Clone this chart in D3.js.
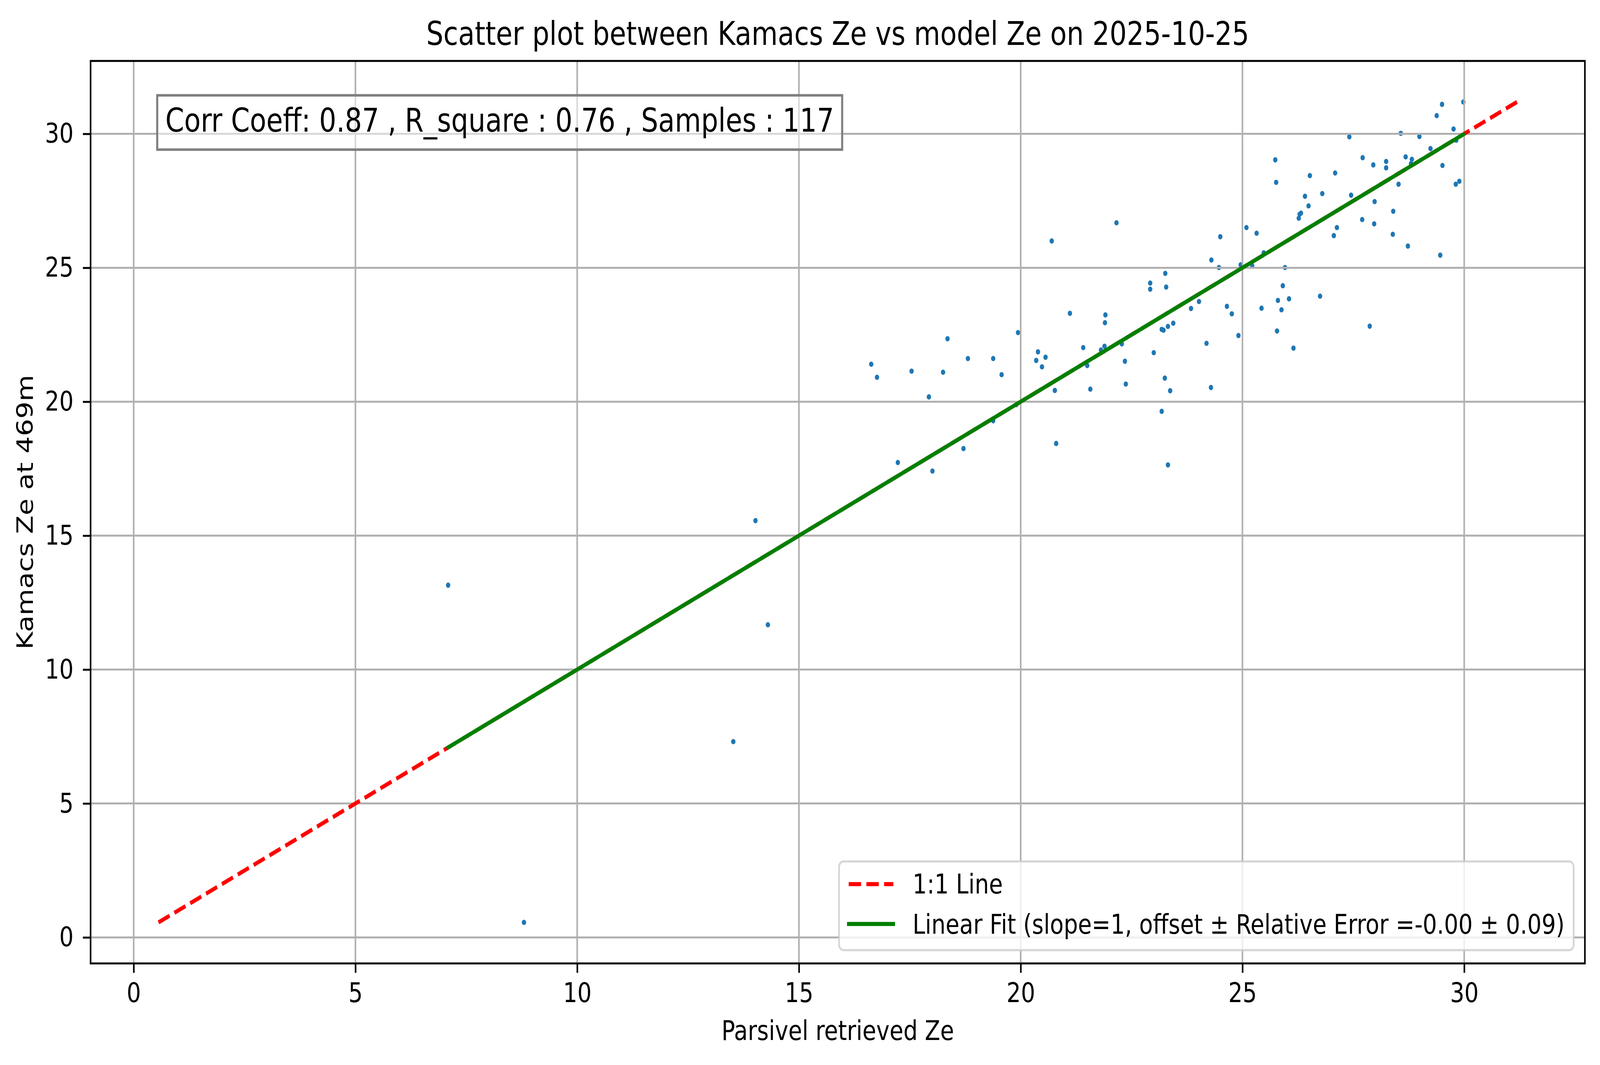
<!DOCTYPE html>
<html>
<head>
<meta charset="utf-8">
<script src="https://cdn.jsdelivr.net/npm/d3@7"></script>
<style>
  html, body { margin: 0; padding: 0; width: 100%; height: 100%; overflow: hidden; background: #ffffff; }
  #chart { width: 100vw; height: 100vh; }
  svg { display: block; width: 100%; height: 100%; font-family: "DejaVu Sans", sans-serif; }
</style>
</head>
<body>
<div id="chart"></div>
<script>
// Parsivel retrieved Ze (x) and Kamacs Ze at 469m (y)
var parsivelZe = [
  7.09, 8.80, 13.52, 14.02, 14.30,
  16.63, 16.76, 17.23, 17.54, 17.93, 18.01, 18.25, 18.35, 18.71, 18.81, 19.38,
  19.38, 19.57, 19.90, 19.94, 20.35, 20.39, 20.48, 20.56, 20.70, 20.77, 20.80,
  21.11, 21.41, 21.50, 21.57, 21.81, 21.89, 21.90, 21.91, 22.16, 22.28, 22.35,
  22.37, 22.92, 22.92, 23.00, 23.18, 23.18, 23.22, 23.25, 23.26, 23.28, 23.32,
  23.32, 23.37, 23.44, 23.84, 24.02, 24.19, 24.29, 24.30, 24.47, 24.50, 24.65,
  24.76, 24.91, 24.96, 25.09, 25.22,
  25.32, 25.48, 25.74, 25.76, 25.96, 26.27, 26.29, 26.32, 26.41, 26.49, 26.52,
  26.80, 27.06, 27.09, 27.13, 27.41, 27.45, 27.70, 27.71, 27.95, 27.97, 27.98,
  28.24, 28.24, 28.39, 28.40, 28.52, 28.57, 28.68, 28.73, 28.80, 28.82, 28.99,
  29.24, 29.38, 29.46, 29.50, 29.51, 29.76, 29.81, 29.82, 29.89, 29.98,
  25.43, 25.78, 25.80, 25.88, 25.91, 26.05, 26.15, 26.75, 27.87
];
var kamacsZe = [
  13.15, 0.56, 7.31, 15.56, 11.67,
  21.40, 20.91, 17.73, 21.14, 20.18, 17.41, 21.10, 22.35, 18.25, 21.61, 21.61,
  19.29, 21.01, 19.89, 22.58, 21.54, 21.86, 21.30, 21.66, 26.00, 20.42, 18.44,
  23.30, 22.02, 21.35, 20.47, 21.93, 22.07, 22.95, 23.24, 26.68, 22.16, 21.51,
  20.66, 24.43, 24.20, 21.83, 22.70, 19.64, 22.67, 20.88, 24.79, 24.28, 22.81,
  17.64, 20.41, 22.93, 23.48, 23.74, 22.18, 20.53, 25.29, 25.01, 26.16, 23.56,
  23.28, 22.47, 25.11, 26.50, 25.08,
  26.29, 25.56, 29.03, 28.19, 25.01, 26.85, 27.00, 27.04, 27.67, 27.31, 28.44,
  27.77, 26.20, 28.54, 26.50, 29.89, 27.71, 26.80, 29.11, 28.84, 26.64, 27.47,
  28.97, 28.73, 26.25, 27.11, 28.12, 30.02, 29.14, 25.81, 28.89, 29.05, 29.90,
  29.45, 30.68, 25.47, 31.10, 28.82, 30.18, 28.12, 29.76, 28.23, 31.19,
  23.49, 22.64, 23.78, 23.43, 24.33, 23.84, 22.00, 23.94, 22.82
];

var xTicks = [0, 5, 10, 15, 20, 25, 30];
var yTicks = [0, 5, 10, 15, 20, 25, 30];

var fitSlope = 1;
var fitOffset = 0.00;

var chartTitle = "Scatter plot between Kamacs Ze vs model Ze on 2025-10-25";
var xLabel = "Parsivel retrieved Ze";
var yLabel = "Kamacs Ze at 469m";
var statsText = "Corr Coeff: 0.87 , R_square : 0.76 , Samples : 117";
var legendLabels = ["1:1 Line", "Linear Fit (slope=1, offset \u00b1 Relative Error =-0.00 \u00b1 0.09)"];

// Tamanho geral e margens (coordenadas do viewBox)
var W = 4981, H = 2726;
var margin = { top: 156, right: 47, bottom: 260, left: 282 };
var pw = W - margin.left - margin.right,
    ph = H - margin.top - margin.bottom;

var points = parsivelZe.map((d, i) => ({ x: d, y: kamacsZe[i] }));

// limites como o matplotlib: dados + 5% de margem
var lo = Math.min(d3.min(parsivelZe), d3.min(kamacsZe)),
    hi = Math.max(d3.max(parsivelZe), d3.max(kamacsZe)),
    pad = (hi - lo) * 0.05;

var x = d3.scaleLinear().domain([lo - pad, hi + pad]).range([0, pw]);
var y = d3.scaleLinear().domain([lo - pad, hi + pad]).range([ph, 0]);

// o svg ocupa a janela inteira
var svg = d3.select("#chart").append("svg")
    .attr("viewBox", `0 0 ${W} ${H}`)
    .attr("preserveAspectRatio", "none");

svg.append("rect").attr("width", W).attr("height", H).attr("fill", "#ffffff");

var g = svg.append("g")
    .attr("transform", `translate(${margin.left},${margin.top})`);

// Pontos
g.append("g").attr("class", "points")
    .selectAll("circle")
    .data(points)
    .enter().append("circle")
    .attr("cx", d => x(d.x))
    .attr("cy", d => y(d.y))
    .attr("r", 6.8)
    .attr("fill", "#1f77b4");

// Grade
var grid = g.append("g").attr("class", "grid");
grid.selectAll(".gx")
    .data(xTicks)
    .enter().append("line")
    .attr("x1", d => x(d)).attr("x2", d => x(d))
    .attr("y1", 0).attr("y2", ph)
    .attr("stroke", "#b0b0b0").attr("stroke-width", 5);
grid.selectAll(".gy")
    .data(yTicks)
    .enter().append("line")
    .attr("x1", 0).attr("x2", pw)
    .attr("y1", d => y(d)).attr("y2", d => y(d))
    .attr("stroke", "#b0b0b0").attr("stroke-width", 5);

// Linha 1:1
var line = d3.line().x(d => x(d[0])).y(d => y(d[1]));
g.append("path")
    .attr("d", line([[lo, lo], [hi, hi]]))
    .attr("fill", "none")
    .attr("stroke", "#ff0000")
    .attr("stroke-width", 10.5)
    .attr("stroke-dasharray", "38.5,16.6");

// Ajuste linear
var xMin = d3.min(parsivelZe), xMax = d3.max(parsivelZe);
g.append("path")
    .attr("d", line([[xMin, fitSlope * xMin + fitOffset], [xMax, fitSlope * xMax + fitOffset]]))
    .attr("fill", "none")
    .attr("stroke", "#008000")
    .attr("stroke-width", 10.5)
    .attr("stroke-linecap", "square");

// Eixos
var xAxis = g.append("g")
    .attr("transform", `translate(0,${ph})`)
    .call(d3.axisBottom(x).tickValues(xTicks).tickSize(24).tickPadding(25).tickFormat(d3.format("d")));
var yAxis = g.append("g")
    .call(d3.axisLeft(y).tickValues(yTicks).tickSize(24).tickPadding(29).tickFormat(d3.format("d")));

[xAxis, yAxis].forEach(a => {
    a.select(".domain").remove();
    a.selectAll(".tick line").attr("stroke", "#000").attr("stroke-width", 5);
    a.selectAll(".tick text")
        .attr("fill", "#000")
        .style("font-size", "70px")
        .style("font-family", "DejaVu Sans");
});

// Moldura
g.append("rect")
    .attr("width", pw).attr("height", ph)
    .attr("fill", "none")
    .attr("stroke", "#000")
    .attr("stroke-width", 5);

// Caixa com as estatísticas
var statFs = 84, statPad = 0.3 * statFs;
var statG = g.append("g");
var statRect = statG.append("rect");
var statT = statG.append("text")
    .attr("x", pw * 0.05)
    .attr("y", 337 - margin.top)
    .style("font-size", statFs + "px")
    .attr("fill", "#000")
    .text(statsText);
var sw = statT.node().getComputedTextLength();
statRect
    .attr("x", pw * 0.05 - statPad)
    .attr("y", 244 - margin.top)
    .attr("width", sw + 2 * statPad)
    .attr("height", 139)
    .attr("fill", "#ffffff").attr("fill-opacity", 0.5)
    .attr("stroke", "#808080").attr("stroke-width", 6.5);

// Legenda
var legRight = 4899 - margin.left, legBottom = 2432 - margin.top, legTop = 2205 - margin.top;
var legG = g.append("g");
var legBox = legG.append("rect");
var legTexts = legG.selectAll(".legText")
    .data(legendLabels)
    .enter().append("text")
    .attr("class", "legText")
    .attr("y", (d, i) => [2287, 2390][i] - margin.top)
    .style("font-size", "70px")
    .attr("fill", "#000")
    .text(d => d);
var lw = d3.max(legTexts.nodes(), n => n.getComputedTextLength());
var textX = legRight - 28 - lw;
legTexts.attr("x", textX);
var hx0 = textX - 60 - 139, hx1 = textX - 60;
legBox
    .attr("x", hx0 - 30).attr("y", legTop)
    .attr("width", legRight - (hx0 - 30)).attr("height", legBottom - legTop)
    .attr("rx", 14).attr("ry", 14)
    .attr("fill", "#ffffff").attr("fill-opacity", 0.8)
    .attr("stroke", "#cccccc").attr("stroke-opacity", 0.8).attr("stroke-width", 5.5);
legG.append("line")
    .attr("x1", hx0).attr("x2", hx1)
    .attr("y1", 2263 - margin.top).attr("y2", 2263 - margin.top)
    .attr("stroke", "#ff0000").attr("stroke-width", 10.5)
    .attr("stroke-dasharray", "38.5,16.6");
legG.append("line")
    .attr("x1", hx0).attr("x2", hx1)
    .attr("y1", 2365 - margin.top).attr("y2", 2365 - margin.top)
    .attr("stroke", "#008000").attr("stroke-width", 10.5)
    .attr("stroke-linecap", "square");

// Título e rótulos
svg.append("text")
    .attr("x", margin.left + pw / 2)
    .attr("y", 115)
    .attr("text-anchor", "middle")
    .style("font-size", "84px")
    .attr("fill", "#000")
    .text(chartTitle);

svg.append("text")
    .attr("x", margin.left + pw / 2)
    .attr("y", 2662)
    .attr("text-anchor", "middle")
    .style("font-size", "70px")
    .attr("fill", "#000")
    .text(xLabel);

svg.append("text")
    .attr("transform", `translate(102,${margin.top + ph / 2}) rotate(-90)`)
    .attr("text-anchor", "middle")
    .style("font-size", "70px")
    .attr("fill", "#000")
    .text(yLabel);
</script>
</body>
</html>
